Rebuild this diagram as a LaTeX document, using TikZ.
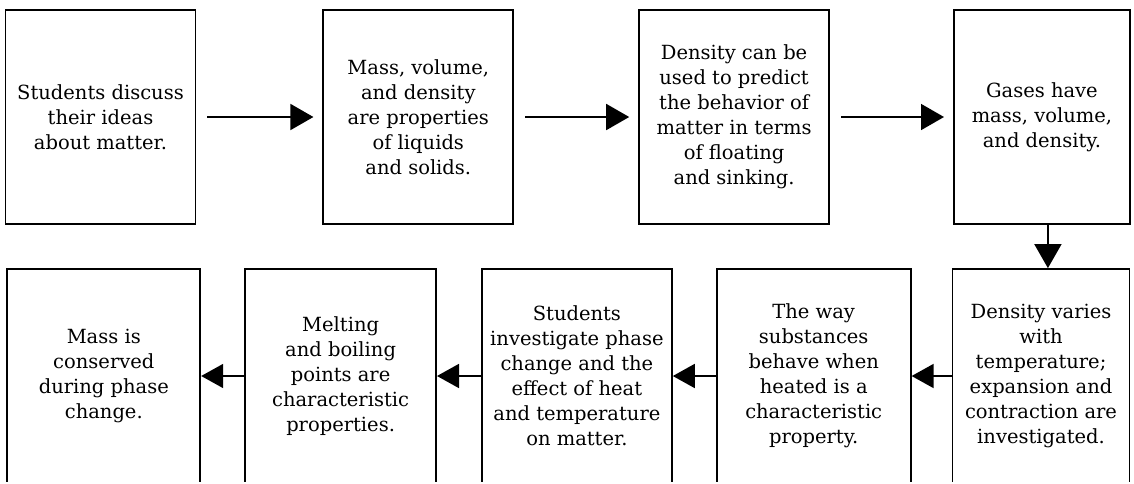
\documentclass[tikz,border=0pt]{standalone}
\usepackage{fontspec}
\setmainfont{DejaVu Serif}
\usepackage{tikz}
\usetikzlibrary{positioning, arrows.meta}

\begin{document}
\begin{tikzpicture}[x=1pt, y=-1pt, node distance=126pt,
    every node/.style={font=\fontsize{19.5}{25}\selectfont},
    stepbox/.style={rectangle, draw, line width=1.8pt, minimum width=190pt, minimum height=214pt, align=center, inner sep=0pt},
    arrow/.style={-{Triangle[length=23pt, width=26pt]}, line width=1.7pt, shorten <=11pt, shorten >=9pt},
    backarrow/.style={-{Triangle[length=22pt, width=24pt]}, line width=1.7pt}]

    \useasboundingbox (0,0) rectangle (1134,483);
    \clip (0,0) rectangle (1134,481);

    % Nodes
    \node[stepbox] (discuss) at (100.5,117) {Students discuss\\their ideas\\about matter.};
    \node[stepbox] (props) [right=126pt of discuss] {Mass, volume,\\and density\\are properties\\of liquids\\and solids.};
    \node[stepbox] (predict) [right=124pt of props] {Density can be\\used to predict\\the behavior of\\matter in terms\\of floating\\and sinking.};
    \node[stepbox, minimum width=176pt] (gases) [right=123pt of predict] {Gases have\\mass, volume,\\and density.};

    \node[stepbox, minimum width=177pt] (varies) at (1041,376) {Density varies\\with\\temperature;\\expansion and\\contraction are\\investigated.};
    \node[stepbox, minimum width=194pt] (heated) [left=40pt of varies] {The way\\substances\\behave when\\heated is a\\characteristic\\property.};
    \node[stepbox] (phase) [left=43pt of heated] {Students\\investigate phase\\change and the\\effect of heat\\and temperature\\on matter.};
    \node[stepbox, minimum width=191pt] (melting) [left=44pt of phase] {Melting\\and boiling\\points are\\characteristic\\properties.};
    \node[stepbox, minimum width=193pt] (conserved) [left=43pt of melting] {Mass is\\conserved\\during phase\\change.};

    % Arrows
    \draw[arrow] (discuss) -- (props);
    \draw[arrow] (props) -- (predict);
    \draw[arrow] (predict) -- (gases);
    \draw[backarrow, -{Triangle[length=24pt, width=27pt]}] ([xshift=6pt]gases.south) -- ([xshift=6pt]gases.south |- varies.north);
    \draw[backarrow] (varies) -- (heated);
    \draw[backarrow] (heated) -- (phase);
    \draw[backarrow] (phase) -- (melting);
    \draw[backarrow] (melting) -- (conserved);

\end{tikzpicture}
\end{document}
